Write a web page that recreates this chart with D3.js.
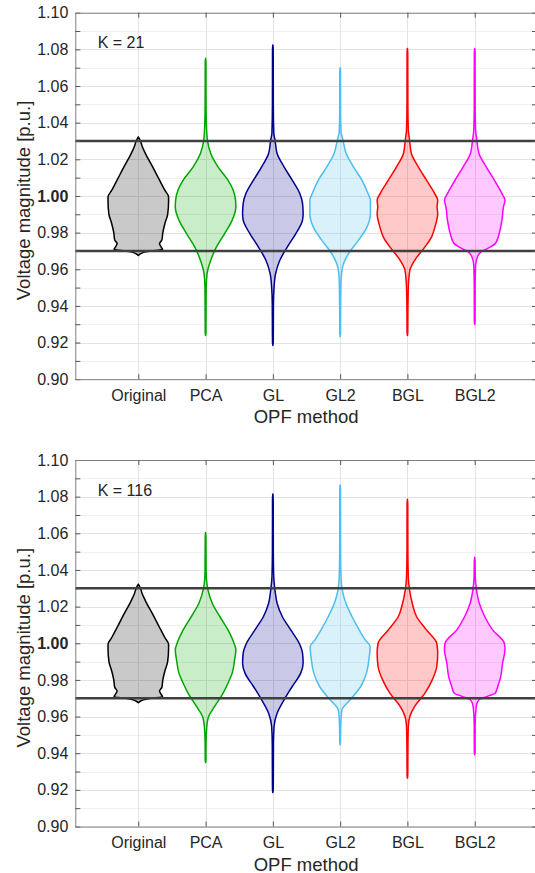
<!DOCTYPE html>
<html>
<head>
<meta charset="utf-8">
<script src="https://cdn.jsdelivr.net/npm/d3@7"></script>
<style>
  body { margin: 0; background: #fff; }
  text { font-family: "Liberation Sans", Arial, Helvetica, sans-serif; fill: #262626; }
</style>
</head>
<body>
<script>
const methods = ["Original", "PCA", "GL", "GL2", "BGL", "BGL2"];
const edgeColors = ["#000000", "#00a600", "#00008f", "#4dbeee", "#ff0000", "#ff00ff"];
const voltageTicks = d3.range(90, 111).map(d => d / 100);
const limits = [0.97, 1.03];

// violin outlines as [voltage, relative half width]
const original = [[1.0322,0],[1.0300,0.07],[1.0270,0.13],[1.0230,0.24],[1.0160,0.47],[1.0090,0.69],[1.0030,0.88],[0.9995,1.0],[0.9970,1.0],[0.9900,0.97],[0.9850,0.88],[0.9800,0.81],[0.9760,0.78],[0.9740,0.70],[0.9720,0.76],[0.9708,0.80],[0.9702,0.55],[0.9695,0.25],[0.9685,0.08],[0.9675,0]];

const k21PCA = [[1.0751,0],[1.073,0.012],[1.050,0.015],[1.040,0.025],[1.0306,0.06],[1.0232,0.17],[1.0159,0.41],[1.0086,0.74],[1.0032,0.91],[0.9977,0.99],[0.994,1.0],[0.9868,0.88],[0.9795,0.63],[0.9722,0.36],[0.9649,0.17],[0.9576,0.05],[0.950,0.02],[0.935,0.015],[0.9255,0.012],[0.9239,0]];
const k21GL = [[1.0824,0],[1.080,0.012],[1.050,0.015],[1.0343,0.03],[1.0306,0.07],[1.0232,0.14],[1.0159,0.37],[1.0086,0.64],[1.0013,0.89],[0.9959,0.98],[0.9904,1.0],[0.9868,0.98],[0.9795,0.76],[0.9722,0.48],[0.9649,0.23],[0.9576,0.09],[0.950,0.04],[0.9412,0.02],[0.925,0.015],[0.920,0.012],[0.9184,0]];
const k21GL2 = [[1.0700,0],[1.068,0.012],[1.045,0.015],[1.035,0.03],[1.0306,0.09],[1.0232,0.20],[1.0159,0.44],[1.0086,0.72],[1.0013,0.92],[0.9977,1.0],[0.9904,1.0],[0.9831,0.89],[0.9759,0.61],[0.9686,0.28],[0.9613,0.08],[0.954,0.03],[0.935,0.015],[0.925,0.012],[0.9233,0]];
const k21BGL = [[1.0805,0],[1.078,0.012],[1.050,0.015],[1.036,0.03],[1.0306,0.07],[1.0232,0.13],[1.0159,0.36],[1.0086,0.63],[1.0013,0.90],[0.9977,1.0],[0.9940,0.98],[0.9904,1.0],[0.9831,0.91],[0.9777,0.80],[0.9722,0.58],[0.9649,0.24],[0.9594,0.08],[0.950,0.03],[0.935,0.015],[0.9255,0.012],[0.9239,0]];
const k21BGL2 = [[1.0805,0],[1.078,0.012],[1.050,0.015],[1.036,0.03],[1.0306,0.07],[1.0232,0.14],[1.0159,0.38],[1.0086,0.65],[1.0013,0.90],[0.9977,1.0],[0.9940,0.95],[0.9868,0.90],[0.9795,0.81],[0.9759,0.74],[0.9740,0.68],[0.9725,0.55],[0.9713,0.42],[0.9694,0.20],[0.9667,0.09],[0.962,0.03],[0.950,0.015],[0.9315,0.012],[0.9299,0]];

const k116PCA = [[1.0604,0],[1.058,0.012],[1.040,0.018],[1.0346,0.03],[1.0291,0.08],[1.0218,0.22],[1.0146,0.47],[1.0073,0.74],[1.0,0.94],[0.9964,1.0],[0.991,0.96],[0.9837,0.88],[0.9782,0.74],[0.9728,0.58],[0.9655,0.30],[0.960,0.10],[0.9546,0.04],[0.945,0.015],[0.9365,0.012],[0.9349,0]];
const k116GL = [[1.0815,0],[1.079,0.012],[1.050,0.015],[1.036,0.03],[1.0291,0.07],[1.0218,0.14],[1.0146,0.31],[1.0073,0.59],[1.0,0.87],[0.9946,0.98],[0.9891,1.0],[0.9837,0.92],[0.9764,0.64],[0.9691,0.37],[0.9618,0.14],[0.9546,0.04],[0.945,0.02],[0.925,0.015],[0.920,0.012],[0.9185,0]];
const k116GL2 = [[1.0864,0],[1.084,0.012],[1.050,0.015],[1.036,0.03],[1.0291,0.07],[1.0218,0.19],[1.0146,0.39],[1.0073,0.63],[1.0018,0.83],[0.9982,0.99],[0.991,0.95],[0.9837,0.87],[0.9764,0.68],[0.9691,0.33],[0.9637,0.06],[0.959,0.03],[0.950,0.015],[0.946,0.012],[0.9446,0]];
const k116BGL = [[1.0786,0],[1.076,0.012],[1.050,0.015],[1.036,0.03],[1.0291,0.07],[1.0218,0.16],[1.0146,0.30],[1.0073,0.63],[1.0,0.97],[0.9946,1.0],[0.9873,0.97],[0.980,0.82],[0.9728,0.58],[0.9655,0.24],[0.960,0.08],[0.9546,0.03],[0.940,0.015],[0.928,0.012],[0.9264,0]];
const k116BGL2 = [[1.0469,0],[1.045,0.012],[1.036,0.02],[1.0291,0.06],[1.0218,0.15],[1.0146,0.33],[1.0073,0.59],[1.0,0.98],[0.9964,1.0],[0.9891,0.92],[0.9818,0.86],[0.9764,0.76],[0.9728,0.68],[0.9710,0.42],[0.9691,0.14],[0.9655,0.05],[0.955,0.015],[0.9405,0.012],[0.9391,0]];

const panels = [
  { label: "K = 21", top: 12.7, violins: [original, k21PCA, k21GL, k21GL2, k21BGL, k21BGL2] },
  { label: "K = 116", top: 460, violins: [original, k116PCA, k116GL, k116GL2, k116BGL, k116BGL2] }
];

const width = 535, height = 873,
    left = 75.3, right = 537, plotH = 366.5,
    halfWidth = 0.45;

const svg = d3.select("body").append("svg")
    .attr("width", width)
    .attr("height", height);

const x = d3.scaleLinear().domain([0.0636, 6.926]).range([left, right]);

panels.forEach(p => {
  const y = d3.scaleLinear().domain([0.9, 1.1]).range([p.top + plotH, p.top]);
  const g = svg.append("g");

  // grid
  g.selectAll(".hgrid").data(voltageTicks).join("line")
      .attr("x1", left).attr("x2", right)
      .attr("y1", d => Math.round(y(d)) + 0.5).attr("y2", d => Math.round(y(d)) + 0.5)
      .attr("stroke", (d, i) => i % 2 ? "#f0f0f0" : "#e3e3e3");
  g.selectAll(".vgrid").data(d3.range(1, 7)).join("line")
      .attr("x1", d => Math.round(x(d)) + 0.5).attr("x2", d => Math.round(x(d)) + 0.5)
      .attr("y1", p.top).attr("y2", p.top + plotH)
      .attr("stroke", "#e3e3e3");

  // violins
  const area = d3.area()
      .curve(d3.curveMonotoneY)
      .y(d => y(d[0]));

  p.violins.forEach((prof, i) => {
    const cx = i + 1;
    area.x0(d => x(cx - halfWidth * d[1])).x1(d => x(cx + halfWidth * d[1]));
    g.append("path")
        .datum(prof)
        .attr("d", area)
        .attr("fill", edgeColors[i])
        .attr("fill-opacity", 0.21)
        .attr("stroke", edgeColors[i])
        .attr("stroke-width", 1.5)
        .attr("stroke-linejoin", "round");
  });

  // limits
  g.selectAll(".lim").data(limits).join("line")
      .attr("x1", left).attr("x2", right)
      .attr("y1", d => y(d)).attr("y2", d => y(d))
      .attr("stroke", "#404040")
      .attr("stroke-width", 2.6);

  // axes
  const yAxis = g.append("g")
      .attr("transform", `translate(${left},0)`)
      .call(d3.axisLeft(y).tickValues(voltageTicks)
          .tickFormat((d, i) => i % 2 ? "" : d3.format(".2f")(d))
          .tickSize(-5).tickSizeOuter(0).tickPadding(7));
  yAxis.selectAll("text")
      .style("font-size", "16px")
      .style("font-weight", d => Math.abs(d - 1) < 1e-9 ? "bold" : "normal");

  g.append("g")
      .attr("transform", `translate(${right},0)`)
      .call(d3.axisRight(y).tickValues(voltageTicks).tickFormat("")
          .tickSize(-5).tickSizeOuter(0));

  const xAxis = g.append("g")
      .attr("transform", `translate(0,${p.top + plotH})`)
      .call(d3.axisBottom(x).tickValues(d3.range(1, 7))
          .tickFormat(d => methods[d - 1])
          .tickSize(-5).tickSizeOuter(0).tickPadding(10));
  xAxis.selectAll("text").style("font-size", "16px");

  g.append("g")
      .attr("transform", `translate(0,${p.top})`)
      .call(d3.axisTop(x).tickValues(d3.range(1, 7)).tickFormat("")
          .tickSize(-5).tickSizeOuter(0));

  g.selectAll(".domain").attr("stroke", "#808080");
  g.selectAll(".tick line").attr("stroke", "#555");

  g.append("text")
      .attr("x", 97.7)
      .attr("y", p.top + 35.7)
      .style("font-size", "16px")
      .text(p.label);

  g.append("text")
      .attr("x", (left + right) / 2)
      .attr("y", p.top + plotH + 44)
      .attr("text-anchor", "middle")
      .style("font-size", "18.5px")
      .text("OPF method");

  g.append("text")
      .attr("transform", `translate(29.5,${p.top + plotH / 2 + 4.5}) rotate(-90)`)
      .attr("text-anchor", "middle")
      .style("font-size", "18.5px")
      .text("Voltage magnitude [p.u.]");
});
</script>
</body>
</html>
